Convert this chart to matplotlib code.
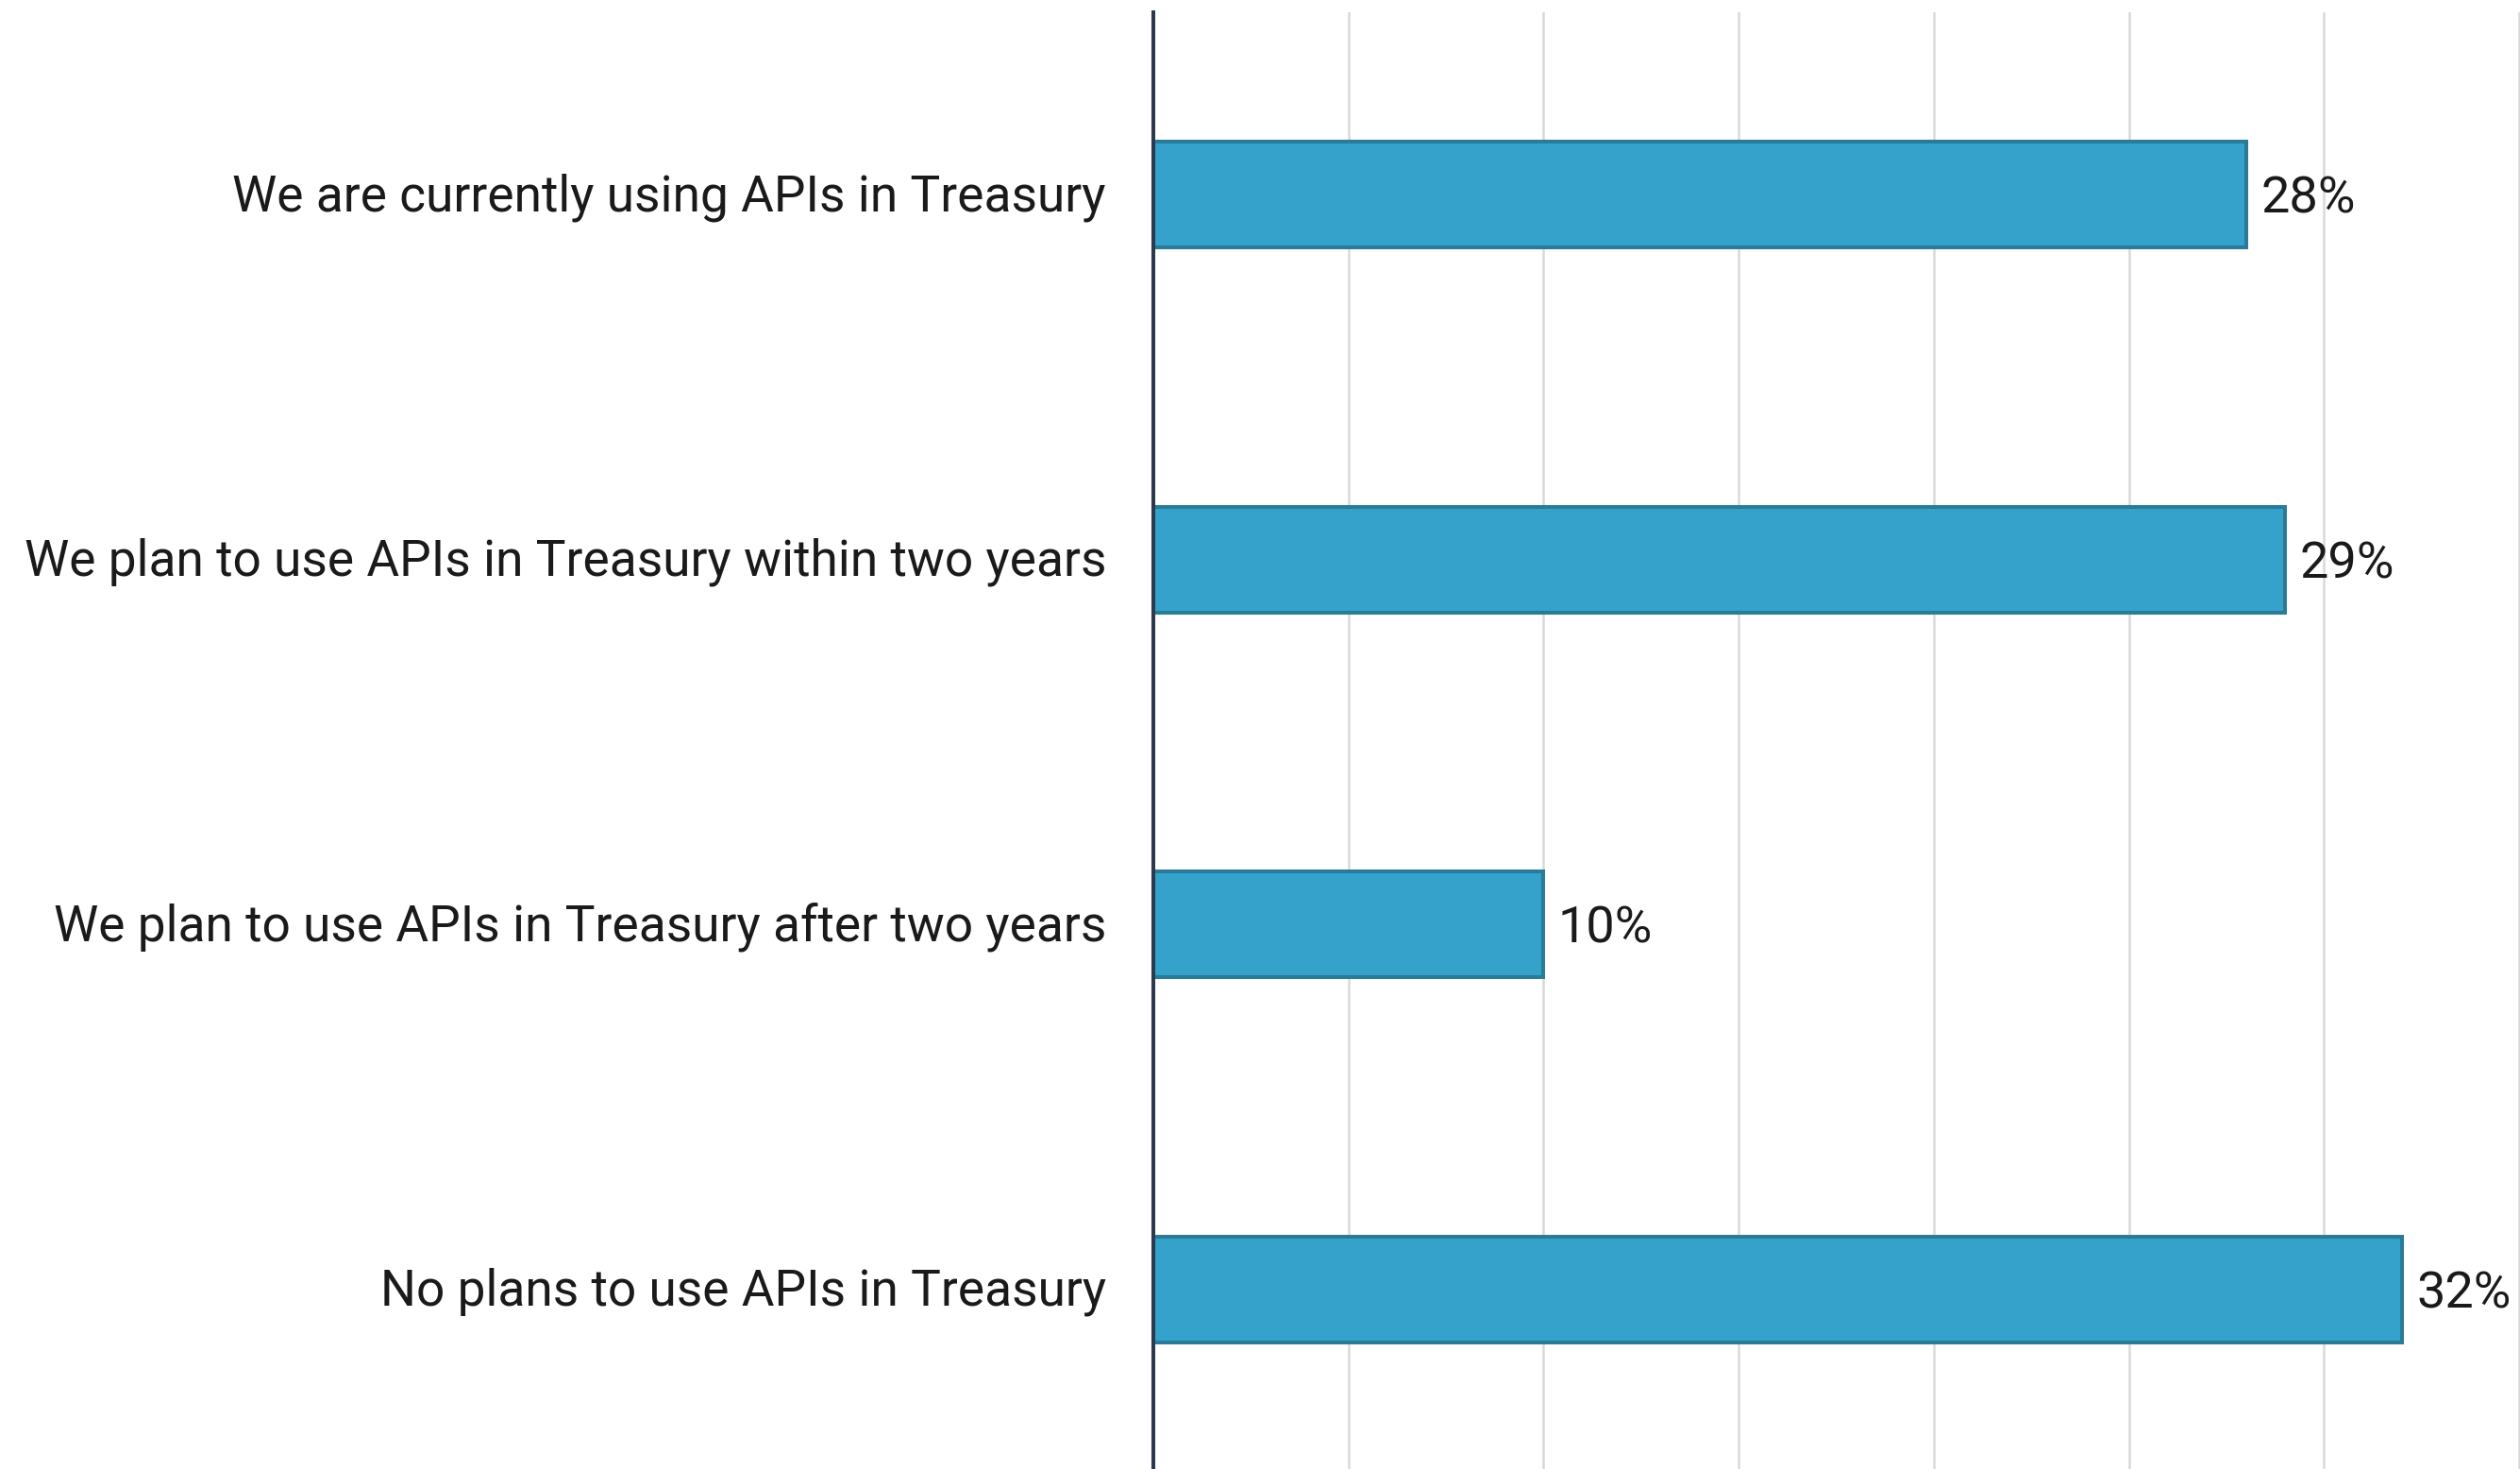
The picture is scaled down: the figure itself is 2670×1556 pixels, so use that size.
import matplotlib
matplotlib.use("Agg")
import matplotlib.pyplot as plt
from matplotlib.transforms import ScaledTranslation

categories = [
    "We are currently using APIs in Treasury",
    "We plan to use APIs in Treasury within two years",
    "We plan to use APIs in Treasury after two years",
    "No plans to use APIs in Treasury",
]
values = [28, 29, 10, 32]
value_labels = ["28%", "29%", "10%", "32%"]
x_ticks = [0, 5, 10, 15, 20, 25, 30, 35]

plt.rcParams['font.family'] = ['Roboto', 'DejaVu Sans']

W, H = 2670, 1556
fig = plt.figure(figsize=(W / 100, H / 100), dpi=100)
left = 1222 / W
top = 13 / H
bottom = -3 / H
ax = fig.add_axes([left, bottom, 1.0 - left, 1 - top - bottom])

y = list(range(len(categories)))
ax.barh(y, values, height=0.29, color="#35a2cb", edgecolor="#2a7b98",
        linewidth=2.9, zorder=2)

ax.set_xlim(0, 35.02)
ax.set_ylim(3.5, -0.5)
ax.set_xticks(x_ticks)
ax.set_xticklabels([])
ax.tick_params(axis="x", length=0)
ax.grid(axis="x", color="#d9d9d9", linewidth=1.8, zorder=0)
ax.set_axisbelow(True)

ax.set_yticks(y)
ax.set_yticklabels(categories, fontsize=38.3, color="#1a1a1a")
ax.tick_params(axis="y", length=0, pad=36)
shift_up = ScaledTranslation(0, 3 / 100, fig.dpi_scale_trans)
for lab in ax.get_yticklabels():
    lab.set_transform(lab.get_transform() + shift_up)

for s in ["top", "right", "bottom"]:
    ax.spines[s].set_visible(False)
ax.spines["left"].set_color("#2c3a4e")
ax.spines["left"].set_linewidth(2.9)
ax.spines["left"].set_zorder(3)

for yi, v, lab in zip(y, values, value_labels):
    ax.annotate(lab, xy=(v, yi), xytext=(11, -3.6), textcoords="offset points",
                va="center", ha="left", fontsize=39, color="#1a1a1a", zorder=4)

fig.savefig("out.png", dpi=100, facecolor="white")
